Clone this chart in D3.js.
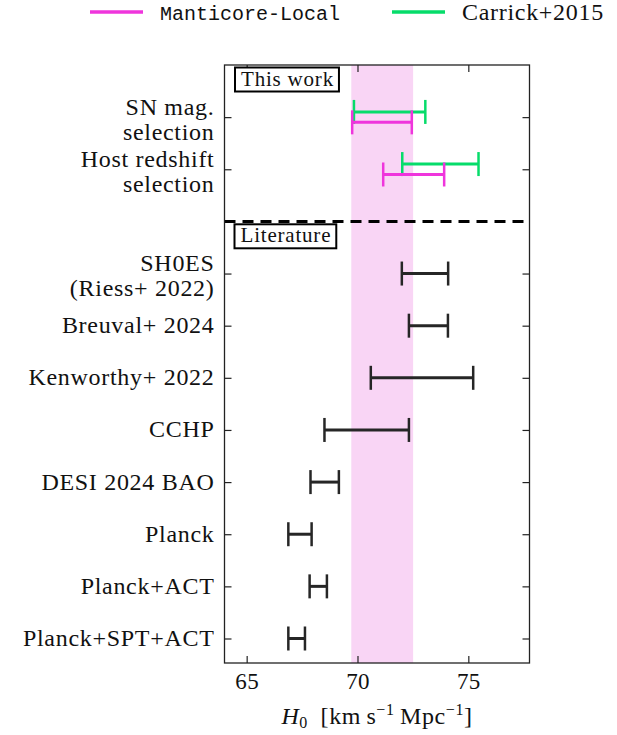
<!DOCTYPE html>
<html>
<head>
<meta charset="utf-8">
<script src="https://cdn.jsdelivr.net/npm/d3@7"></script>
<style>
  body { margin: 0; background: #fff; }
  svg { display: block; }
</style>
</head>
<body>
<div id="vis"></div>
<script>
// chart values

// rows of the "This work" block
const WORK_LABELS = [["SN mag.", "selection"], ["Host redshift", "selection"]];
const MANTICORE_LOW = [69.76, 71.16];
const MANTICORE_HIGH = [72.45, 73.91];
const CARRICK_LOW = [69.84, 72.02];
const CARRICK_HIGH = [73.06, 75.46];

// rows of the "Literature" block
const LIT_LABELS = [["SH0ES", "(Riess+ 2022)"], ["Breuval+ 2024"], ["Kenworthy+ 2022"],
                    ["CCHP"], ["DESI 2024 BAO"], ["Planck"], ["Planck+ACT"], ["Planck+SPT+ACT"]];
const LIT_LOW = [72.00, 72.32, 70.60, 68.51, 67.88, 66.88, 67.84, 66.88];
const LIT_HIGH = [74.09, 74.08, 75.22, 72.32, 69.16, 67.93, 68.62, 67.63];

// shaded band and axis ticks
const BAND = [69.72, 72.51];
const X_TICKS = [65, 70, 75];
const X_DOMAIN = [64.0, 77.76];

// dimensions of the frame
const FRAME_WIDTH = 617;
const FRAME_HEIGHT = 735;
const MARGINS = {left: 224.5, right: 87.5, top: 65, bottom: 72};

const VIS_WIDTH = FRAME_WIDTH - MARGINS.left - MARGINS.right;
const VIS_HEIGHT = FRAME_HEIGHT - MARGINS.top - MARGINS.bottom;

const MAGENTA = "#ef35dc";
const GREEN = "#06dc6a";
const DARK = "#262626";
const SERIF = "'Liberation Serif', 'Times New Roman', serif";
const MONO = "'Liberation Mono', 'DejaVu Sans Mono', monospace";

// row index: 0,1 this work, 2 divider, 3.. literature
const WORK_ROWS = WORK_LABELS.map((d, i) => i);
const DIVIDER_ROW = WORK_LABELS.length;
const LIT_ROWS = LIT_LABELS.map((d, i) => DIVIDER_ROW + 1 + i);
const ALL_ROWS = WORK_ROWS.concat(LIT_ROWS);

const FRAME = d3.select("#vis")
                .append("svg")
                  .attr("width", FRAME_WIDTH)
                  .attr("height", FRAME_HEIGHT);

const X_SCALE = d3.scaleLinear()
                  .domain(X_DOMAIN)
                  .range([MARGINS.left, MARGINS.left + VIS_WIDTH]);

const Y_SCALE = d3.scaleLinear()
                  .domain([-1, LIT_ROWS[LIT_ROWS.length - 1] + 0.47])
                  .range([MARGINS.top, MARGINS.top + VIS_HEIGHT]);

const CAP = 12;

// shaded band
FRAME.append("rect")
     .attr("x", X_SCALE(BAND[0]))
     .attr("y", MARGINS.top)
     .attr("width", X_SCALE(BAND[1]) - X_SCALE(BAND[0]))
     .attr("height", VIS_HEIGHT)
     .attr("fill", "#f9d5f5");

// draws one set of horizontal error bars with end caps
function drawBars(lows, highs, rows, offset, color) {
  const data = rows.map((r, i) => ({y: Y_SCALE(r + offset), lo: lows[i], hi: highs[i]}));
  const g = FRAME.append("g");
  g.selectAll("line.bar")
   .data(data)
   .enter()
   .append("line")
     .attr("x1", (d) => X_SCALE(d.lo))
     .attr("x2", (d) => X_SCALE(d.hi))
     .attr("y1", (d) => d.y)
     .attr("y2", (d) => d.y)
     .attr("stroke", color)
     .attr("stroke-width", 3);
  data.forEach((d) => {
    [d.lo, d.hi].forEach((v) => {
      g.append("line")
        .attr("x1", X_SCALE(v))
        .attr("x2", X_SCALE(v))
        .attr("y1", d.y - CAP)
        .attr("y2", d.y + CAP)
        .attr("stroke", color)
        .attr("stroke-width", 2.5);
    });
  });
}

drawBars(CARRICK_LOW, CARRICK_HIGH, WORK_ROWS, -0.1, GREEN);
drawBars(MANTICORE_LOW, MANTICORE_HIGH, WORK_ROWS, 0.1, MAGENTA);
drawBars(LIT_LOW, LIT_HIGH, LIT_ROWS, 0, DARK);

// dashed divider
FRAME.append("line")
     .attr("x1", MARGINS.left)
     .attr("x2", MARGINS.left + VIS_WIDTH)
     .attr("y1", Y_SCALE(DIVIDER_ROW))
     .attr("y2", Y_SCALE(DIVIDER_ROW))
     .attr("stroke", "#000")
     .attr("stroke-width", 3)
     .attr("stroke-dasharray", "11,7");

// axes with inward ticks on all four sides
FRAME.append("g")
     .attr("transform", "translate(0," + (MARGINS.top + VIS_HEIGHT) + ")")
     .call(d3.axisBottom(X_SCALE).tickValues(X_TICKS).tickSize(-7).tickPadding(10))
     .call((g) => g.select(".domain").remove())
     .call((g) => g.selectAll("text").attr("font-family", SERIF).attr("font-size", 23)
                   .attr("letter-spacing", 0.3).attr("fill", "#111"));

FRAME.append("g")
     .attr("transform", "translate(0," + MARGINS.top + ")")
     .call(d3.axisTop(X_SCALE).tickValues(X_TICKS).tickSize(-7).tickFormat(""))
     .call((g) => g.select(".domain").remove());

FRAME.append("g")
     .attr("transform", "translate(" + MARGINS.left + ",0)")
     .call(d3.axisLeft(Y_SCALE).tickValues(ALL_ROWS).tickSize(-7).tickFormat(""))
     .call((g) => g.select(".domain").remove());

FRAME.append("g")
     .attr("transform", "translate(" + (MARGINS.left + VIS_WIDTH) + ",0)")
     .call(d3.axisRight(Y_SCALE).tickValues(ALL_ROWS).tickSize(-7).tickFormat(""))
     .call((g) => g.select(".domain").remove());

FRAME.selectAll(".tick line").attr("stroke", "#222").attr("stroke-width", 1.2);

// row labels
const LABELS = WORK_LABELS.concat(LIT_LABELS);
ALL_ROWS.forEach((r, i) => {
  const lines = LABELS[i];
  const y0 = lines.length > 1 ? Y_SCALE(r) - 2.5 : Y_SCALE(r) + 7.5;
  const t = FRAME.append("text")
                 .attr("text-anchor", "end")
                 .attr("font-family", SERIF)
                 .attr("font-size", 24)
                 .attr("letter-spacing", 0.7)
                 .attr("fill", "#111");
  lines.forEach((s, j) => {
    t.append("tspan")
      .attr("x", MARGINS.left - 10)
      .attr("y", y0 + j * 25)
      .text(s);
  });
});

// boxed block titles
function boxedTitle(label, x, y) {
  const t = FRAME.append("text")
                 .attr("x", x)
                 .attr("y", y)
                 .attr("font-family", SERIF)
                 .attr("font-size", 21)
                 .attr("letter-spacing", 0.8)
                 .attr("fill", "#111")
                 .text(label);
  const bb = t.node().getBBox();
  FRAME.insert("rect", () => t.node())
       .attr("x", x - 6)
       .attr("y", y - 18)
       .attr("width", bb.width + 11)
       .attr("height", 24)
       .attr("fill", "#fff")
       .attr("stroke", "#000")
       .attr("stroke-width", 2);
}

boxedTitle("This work", 241, 85.5);
boxedTitle("Literature", 240.5, 242.3);

// frame around the plot
FRAME.append("rect")
     .attr("x", MARGINS.left)
     .attr("y", MARGINS.top)
     .attr("width", VIS_WIDTH)
     .attr("height", VIS_HEIGHT)
     .attr("fill", "none")
     .attr("stroke", "#222")
     .attr("stroke-width", 1.3);

// x axis label
const XLABEL = FRAME.append("text")
                    .attr("x", MARGINS.left + VIS_WIDTH / 2)
                    .attr("y", 724)
                    .attr("text-anchor", "middle")
                    .attr("font-family", SERIF)
                    .attr("font-size", 24)
                    .attr("letter-spacing", 0.6)
                    .attr("fill", "#111");
XLABEL.append("tspan").attr("font-style", "italic").text("H");
XLABEL.append("tspan").attr("font-size", 16).attr("dy", 4).text("0");
XLABEL.append("tspan").attr("dy", -4).text("\u2002[km\u2009s");
XLABEL.append("tspan").attr("font-size", 16).attr("dy", -9).text("\u22121");
XLABEL.append("tspan").attr("dy", 9).text("\u2009Mpc");
XLABEL.append("tspan").attr("font-size", 16).attr("dy", -9).text("\u22121");
XLABEL.append("tspan").attr("dy", 9).text("]");

// legend above the plot
const LEGEND = [{name: "Manticore-Local", color: MAGENTA, font: MONO, size: 20, ls: 0, x: 90},
                {name: "Carrick+2015", color: GREEN, font: SERIF, size: 24, ls: 0.7, x: 392}];
LEGEND.forEach((d) => {
  FRAME.append("line")
       .attr("x1", d.x)
       .attr("x2", d.x + 53)
       .attr("y1", 12)
       .attr("y2", 12)
       .attr("stroke", d.color)
       .attr("stroke-width", 3.5);
  FRAME.append("text")
       .attr("x", d.x + 70)
       .attr("y", 20)
       .attr("font-family", d.font)
       .attr("font-size", d.size)
       .attr("letter-spacing", d.ls)
       .attr("fill", "#111")
       .text(d.name);
});
</script>
</body>
</html>
